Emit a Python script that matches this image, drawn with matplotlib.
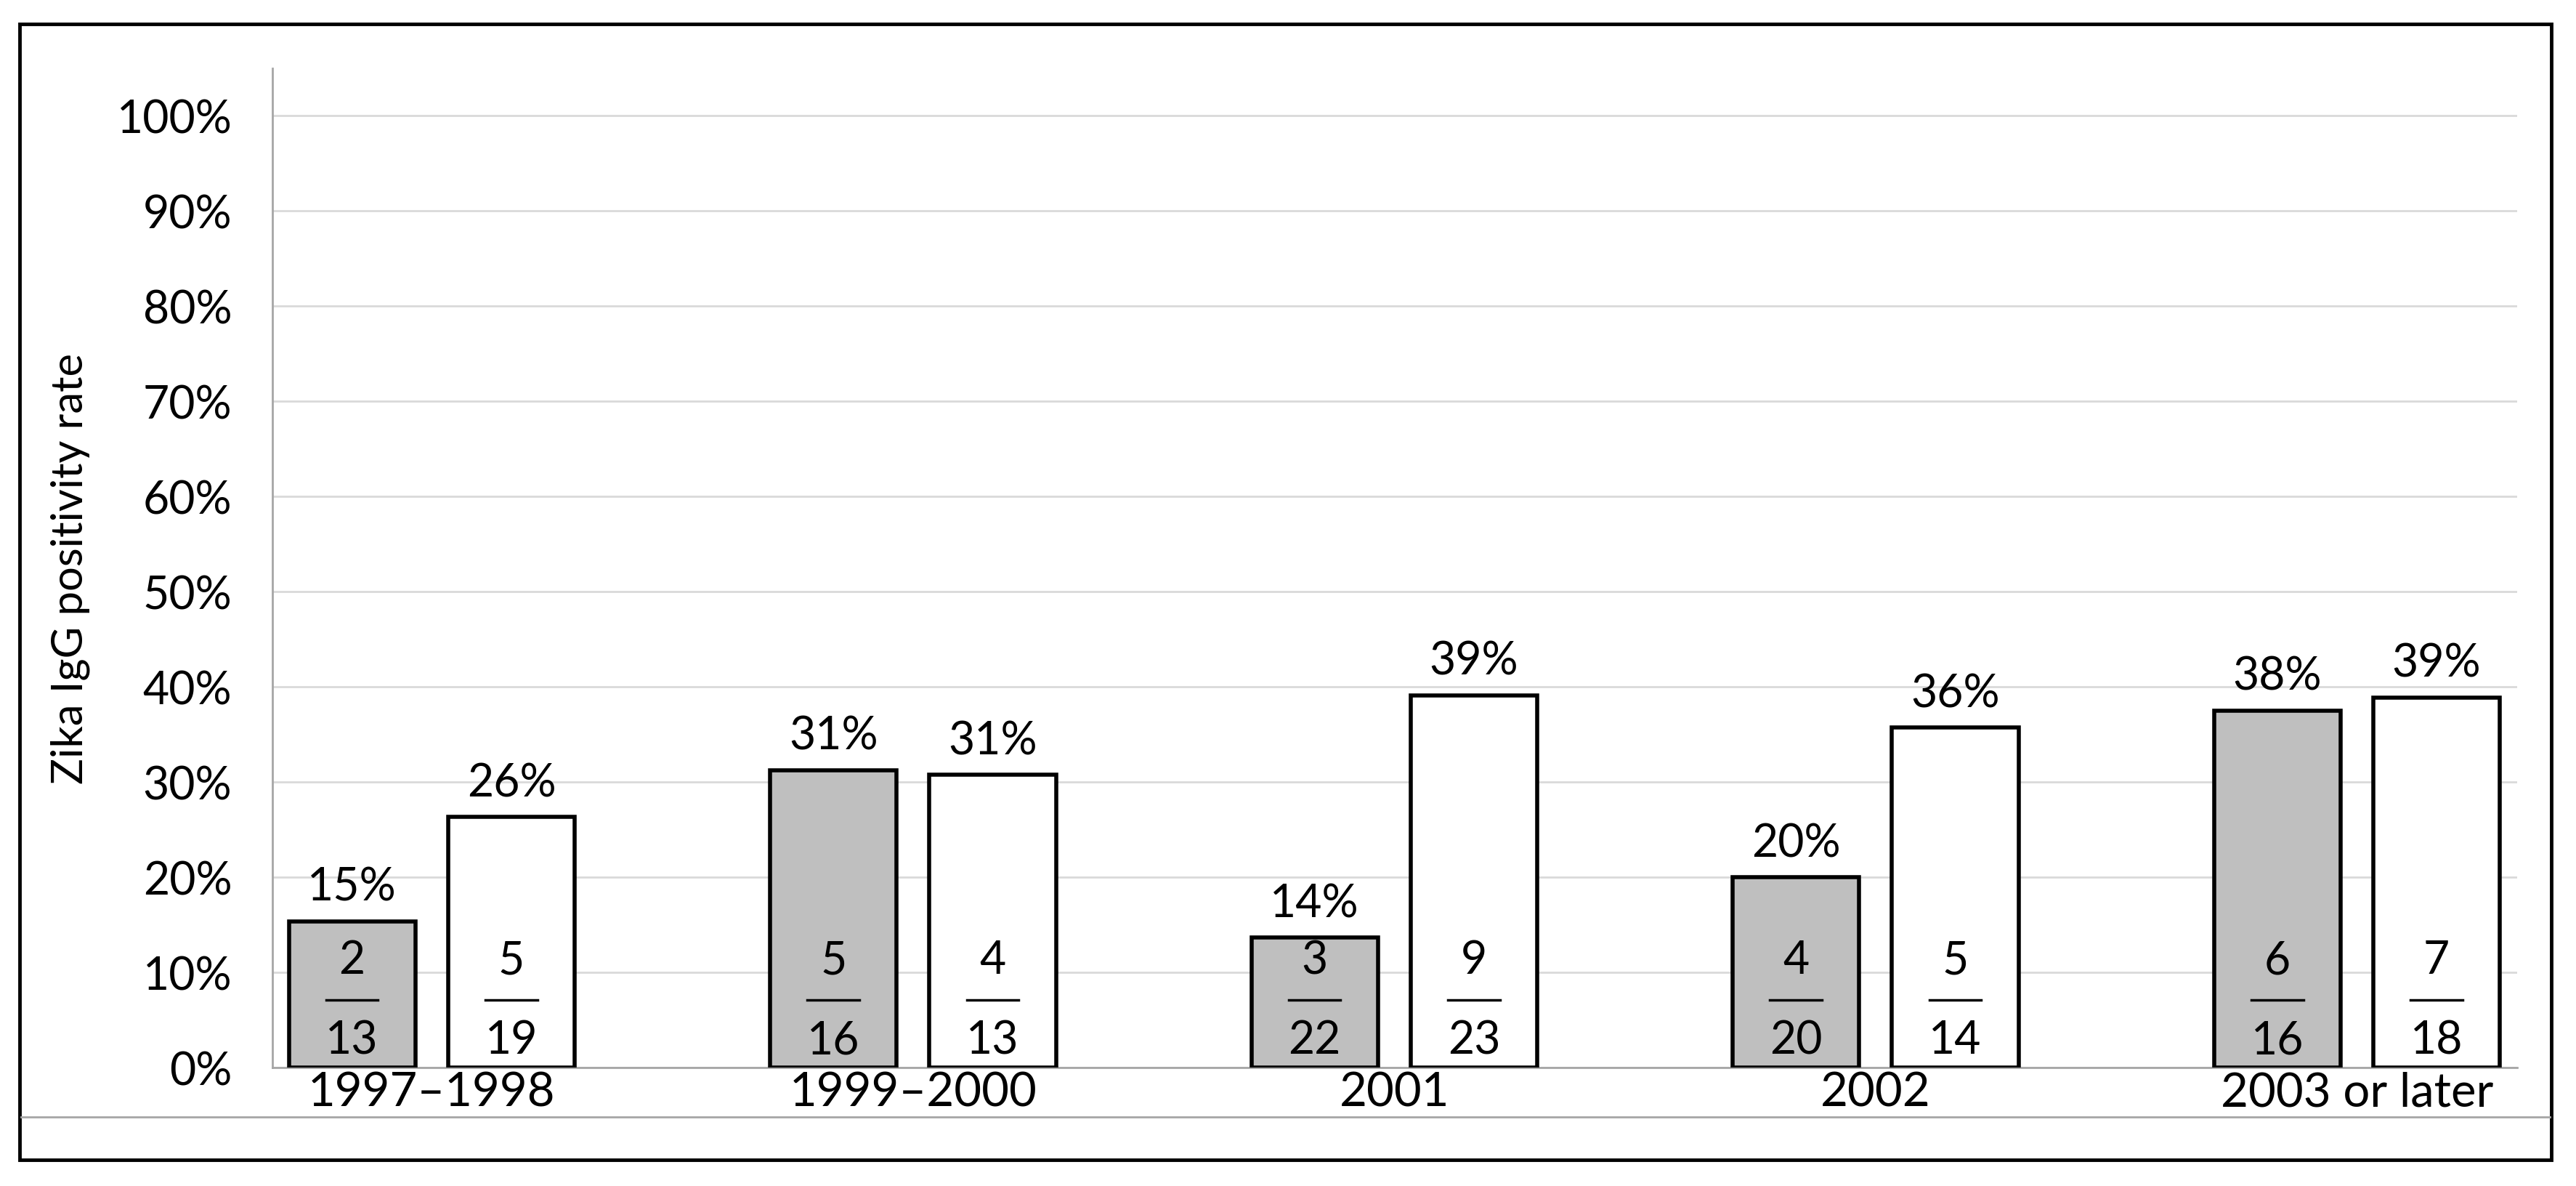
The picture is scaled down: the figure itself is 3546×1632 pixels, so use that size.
import matplotlib
matplotlib.use("Agg")
from matplotlib import pyplot
from matplotlib.lines import Line2D
from matplotlib.patches import Rectangle
import numpy as np

categories = ['1997\u20131998', '1999\u20132000', '2001', '2002', '2003 or later']
grey_pos = [2, 5, 3, 4, 6]
grey_tot = [13, 16, 22, 20, 16]
white_pos = [5, 4, 9, 5, 7]
white_tot = [19, 13, 23, 14, 18]
yticks = [0, 10, 20, 30, 40, 50, 60, 70, 80, 90, 100]

pyplot.rcParams['font.family'] = ['Lato', 'DejaVu Sans']

W, H = 3546, 1633
fig = pyplot.figure(figsize=(W / 100, H / 100), dpi=100)

# outer frame and the lower rule
fig.patches.append(Rectangle((27 / W, 1 - 1597 / H), (3512 - 27) / W, (1597 - 34) / H,
                             transform=fig.transFigure, fill=False, lw=3.5, ec='black'))
fig.lines.append(Line2D([29 / W, 3510 / W], [1 - 1538 / H] * 2, transform=fig.transFigure,
                        color='#a6a6a6', lw=2))

ax = fig.add_axes([375 / W, 1 - 1470 / H, (3465 - 375) / W, (1470 - 95) / H])

x = np.arange(len(categories))
bw = 0.263
off = 0.1655
fs = 45

for vals, tots, dx, col in [(grey_pos, grey_tot, -off, '#bfbfbf'), (white_pos, white_tot, off, 'white')]:
    rates = [100 * n / d for n, d in zip(vals, tots)]
    ax.bar(x + dx, rates, bw, color=col, edgecolor='black', linewidth=4, zorder=3)
    for xi, r, n, d in zip(x + dx, rates, vals, tots):
        ax.annotate('%d%%' % int(r + 0.5), (xi, r), xytext=(0, 13), textcoords='offset points',
                    ha='center', va='bottom', fontsize=fs, zorder=4)
        ax.text(xi, 11.3, str(n), ha='center', va='center', fontsize=fs, zorder=4)
        ax.plot([xi - 0.054, xi + 0.054], [7.1, 7.1], color='black', lw=2.5, zorder=4)
        ax.text(xi, 2.9, str(d), ha='center', va='center', fontsize=fs, zorder=4)

ax.set_xlim(-0.331, 4.333)
ax.set_ylim(0, 105)
ax.set_yticks(yticks)
ax.set_yticklabels(['%d%%' % t for t in yticks], fontsize=fs)
ax.set_xticks(x)
ax.set_xticklabels(categories, fontsize=fs + 2)
ax.tick_params(axis='both', length=0)
ax.tick_params(axis='y', pad=40)
ax.tick_params(axis='x', pad=3)
ax.yaxis.grid(True, color='#d9d9d9', lw=2, zorder=0)
ax.set_axisbelow(True)
for s in ['top', 'right']:
    ax.spines[s].set_visible(False)
for s in ['left', 'bottom']:
    ax.spines[s].set_color('#a6a6a6')
    ax.spines[s].set_linewidth(2)
ax.set_ylabel('Zika IgG positivity rate', fontsize=43, labelpad=26)

fig.savefig('out.png', dpi=100)
